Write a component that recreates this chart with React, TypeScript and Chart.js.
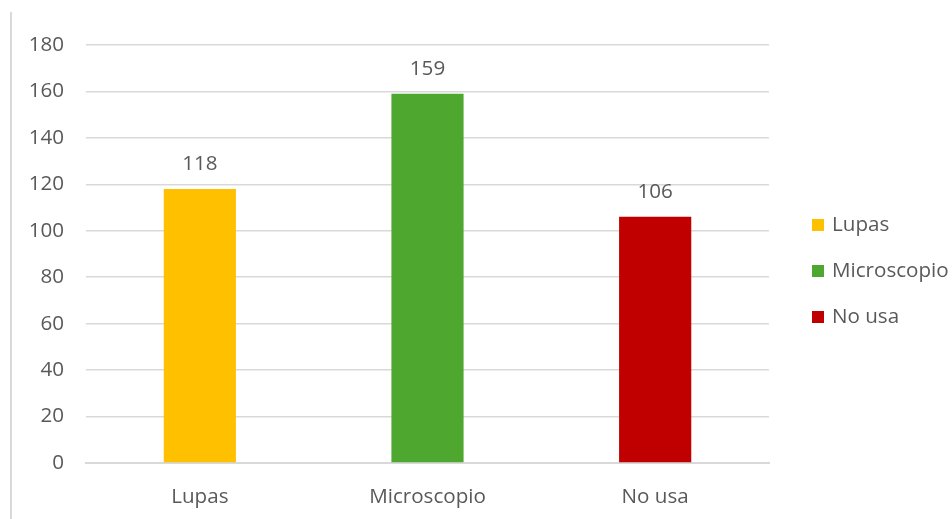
import React, { useEffect, useRef } from "react";
import { Chart, registerables } from "chart.js";

Chart.register(...registerables);

const categories = ["Lupas", "Microscopio", "No usa"];
const counts = [118, 159, 106];
const barColors = ["#FFC000", "#4EA72E", "#C00000"];
const yTicks = [0, 20, 40, 60, 80, 100, 120, 140, 160, 180];

const FONT = "'Open Sans', 'Liberation Sans', sans-serif";
const SIZE = 20.6;
const TEXT = "#595959";
const GRID = "#d9d9d9";

// Value labels above each bar, side legend and the thin frame line on the left.
const decorations = {
  id: "decorations",
  afterDatasetsDraw(chart: any) {
    const ctx = chart.ctx;
    const meta = chart.getDatasetMeta(0);
    ctx.save();
    ctx.fillStyle = TEXT;
    ctx.font = `${SIZE}px ${FONT}`;
    ctx.textAlign = "center";
    ctx.textBaseline = "middle";
    meta.data.forEach((bar: any, i: number) => {
      ctx.fillText(String(counts[i]), bar.x, bar.y - 25);
    });

    // legend
    const lx = 812;
    const ly = 225;
    const step = 46;
    ctx.textAlign = "left";
    categories.forEach((c, i) => {
      const y = ly + i * step;
      ctx.fillStyle = barColors[i];
      ctx.fillRect(lx, y - 6, 12, 12);
      ctx.fillStyle = TEXT;
      ctx.fillText(c, lx + 20, y);
    });

    // left frame line
    ctx.strokeStyle = GRID;
    ctx.lineWidth = 2;
    ctx.beginPath();
    ctx.moveTo(11, 12);
    ctx.lineTo(11, chart.height);
    ctx.stroke();
    ctx.restore();
  },
};

export default function App() {
  const ref = useRef<HTMLCanvasElement>(null);

  useEffect(() => {
    if (!ref.current) return;
    const chart = new Chart(ref.current, {
      type: "bar",
      data: {
        labels: categories,
        datasets: [
          {
            data: counts,
            backgroundColor: barColors,
            borderWidth: 0,
            categoryPercentage: 1,
            barPercentage: 0.317,
          },
        ],
      },
      options: {
        responsive: false,
        animation: false,
        layout: { padding: { top: 45, right: 183, bottom: 0, left: 0 } },
        plugins: {
          legend: { display: false },
          tooltip: { enabled: false },
        },
        scales: {
          x: {
            grid: { display: false },
            border: { color: GRID, width: 2 },
            ticks: {
              color: TEXT,
              font: { family: FONT, size: SIZE },
              padding: 14,
            },
            afterFit: (s: any) => {
              s.height = 56;
            },
          },
          y: {
            min: 0,
            max: 180,
            afterBuildTicks: (s: any) => {
              s.ticks = yTicks.map((v) => ({ value: v }));
            },
            grid: { color: GRID, lineWidth: 1.5, drawTicks: false },
            border: { display: false },
            ticks: {
              color: TEXT,
              font: { family: FONT, size: SIZE },
              padding: 22,
            },
            afterFit: (s: any) => {
              s.width = 86;
            },
          },
        },
      },
      plugins: [decorations],
    });
    return () => chart.destroy();
  }, []);

  return (
    <div style={{ position: "fixed", left: 0, top: 0, width: 952, height: 519, background: "#fff" }}>
      <canvas ref={ref} width={952} height={519} style={{ display: "block" }} />
    </div>
  );
}
